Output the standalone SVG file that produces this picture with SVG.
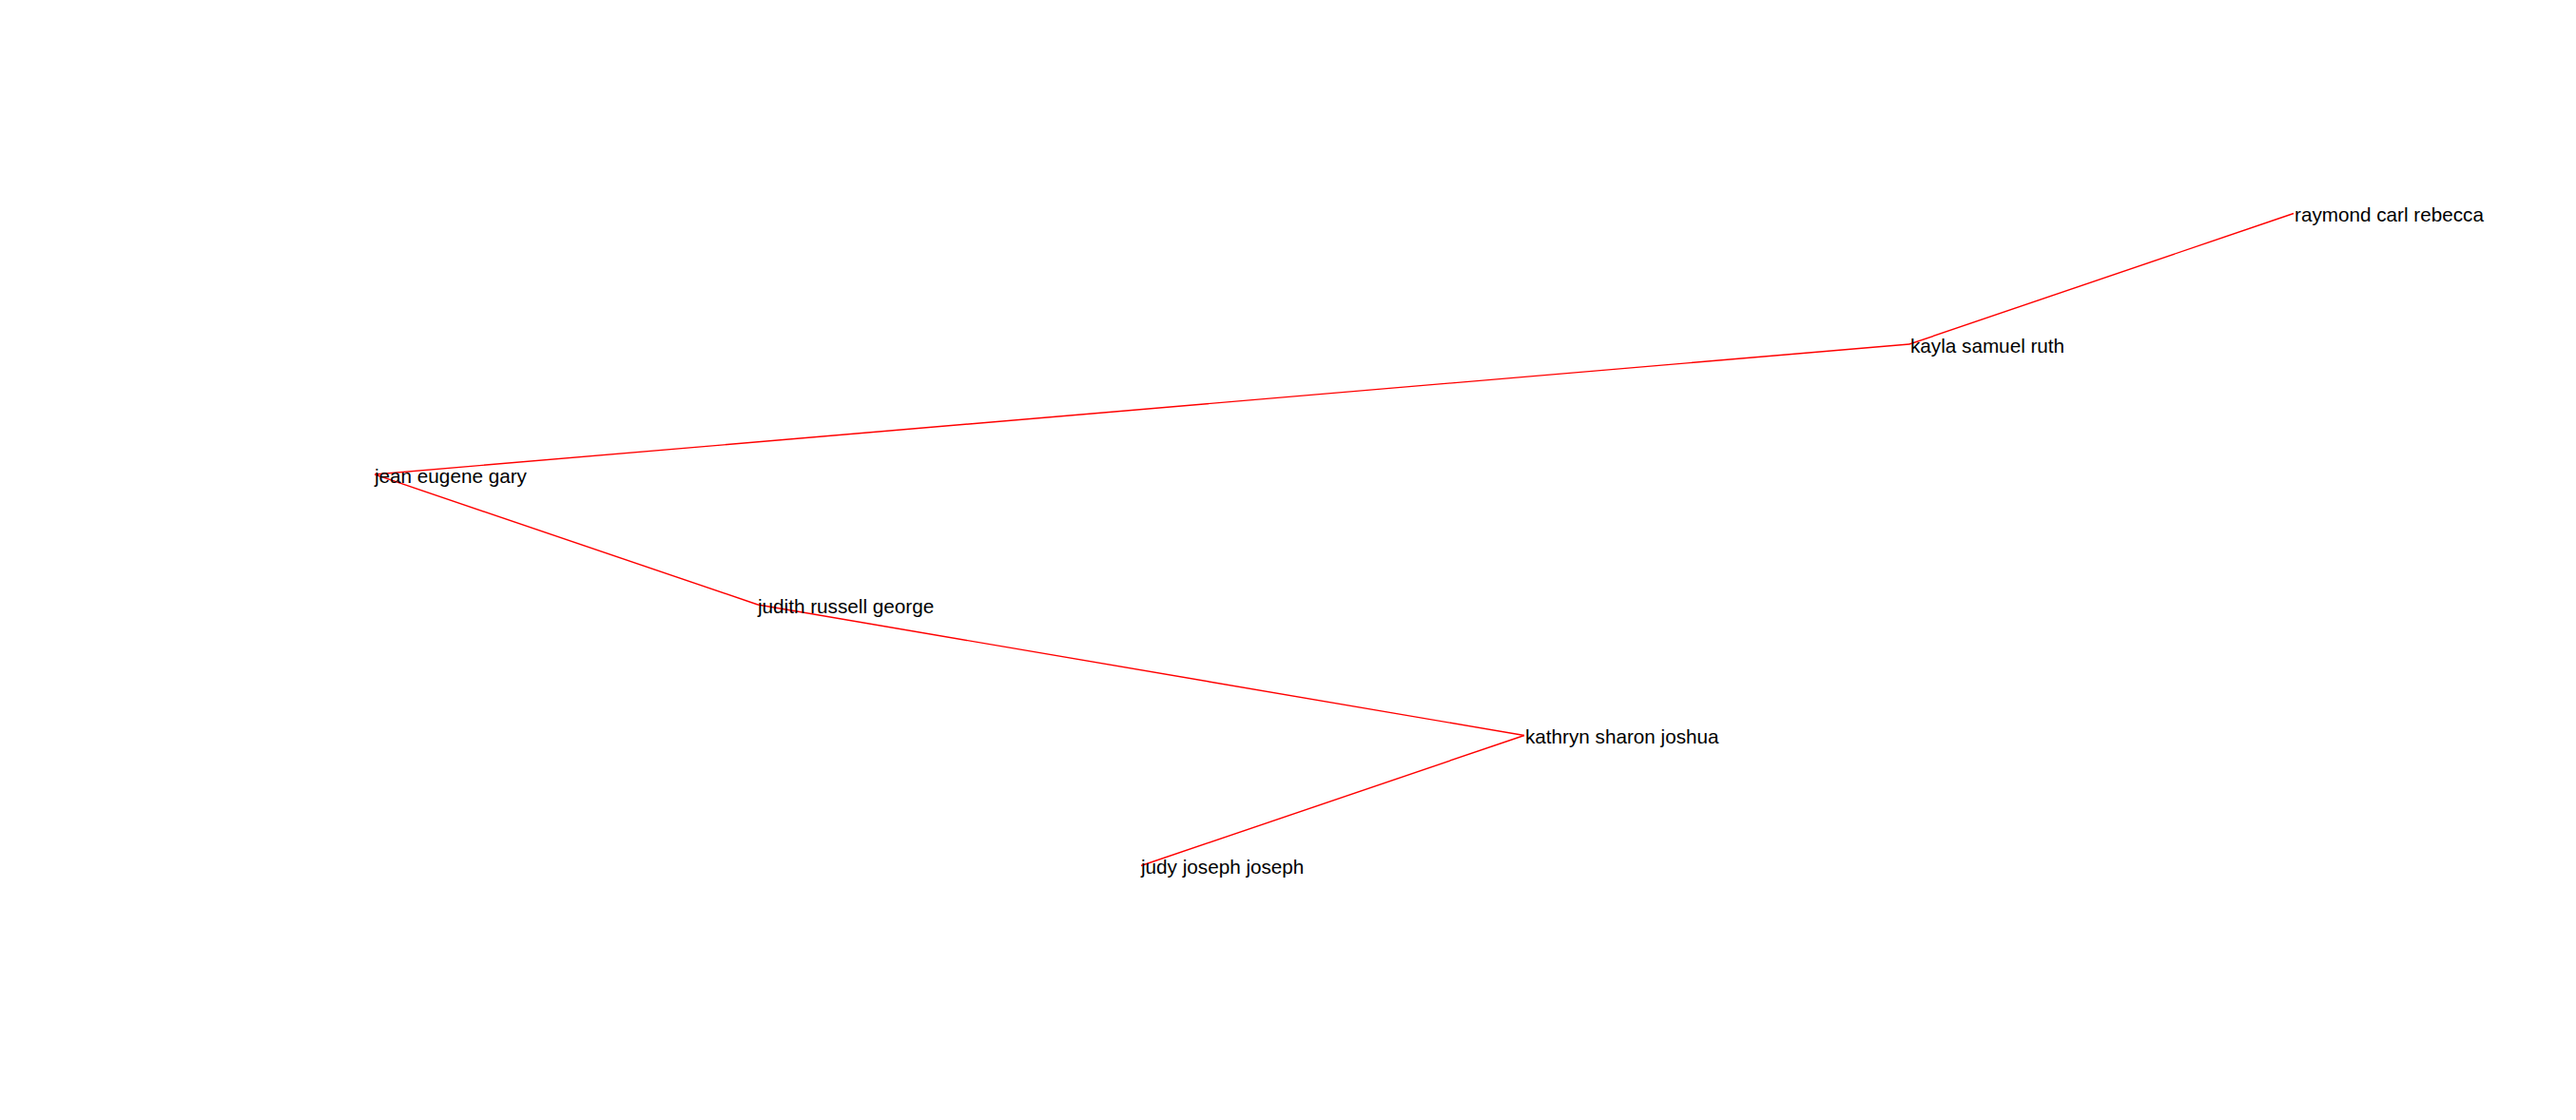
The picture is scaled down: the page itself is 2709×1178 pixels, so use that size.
<svg xmlns="http://www.w3.org/2000/svg" width="2709" height="1178" viewBox="0 0 2709 1178">
<style>
.edge{stroke:#ff0000;stroke-width:1.4;fill:none}
.lbl{font-family:"Liberation Sans",Arial,sans-serif;font-size:20.7px;fill:#000}
</style>
<rect width="2709" height="1178" fill="#fff"/>
<g id="edges">
<line class="edge" x1="394" y1="499" x2="2008" y2="362"/>
<line class="edge" x1="2008" y1="362" x2="2412" y2="224.5"/>
<line class="edge" x1="394" y1="499" x2="797" y2="636"/>
<line class="edge" x1="797" y1="636" x2="1603" y2="773.5"/>
<line class="edge" x1="1603" y1="773.5" x2="1200" y2="910.5"/>
</g>
<g id="raymond"><text class="lbl" x="2413" y="233">raymond carl rebecca</text></g>
<g id="kayla"><text class="lbl" x="2009" y="370.5">kayla samuel ruth</text></g>
<g id="jean"><text class="lbl" x="394" y="507.5">jean eugene gary</text></g>
<g id="judith"><text class="lbl" x="797" y="644.5">judith russell george</text></g>
<g id="kathryn"><text class="lbl" x="1604" y="782">kathryn sharon joshua</text></g>
<g id="judy"><text class="lbl" x="1200" y="919">judy joseph joseph</text></g>
</svg>
